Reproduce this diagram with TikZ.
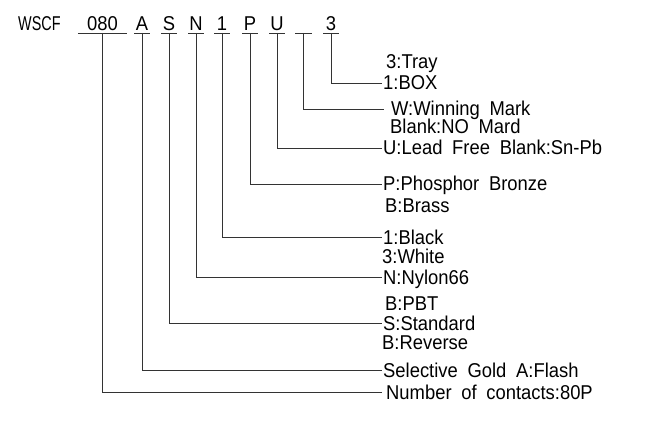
\documentclass[tikz,border=0pt]{standalone}
\usepackage{fontspec}
\setmainfont{Liberation Sans}[FakeStretch=0.92,WordSpace=1.9]
\usepackage{tikz}

\begin{document}
\begin{tikzpicture}[x=1pt,y=-1pt,
    txt/.style={font=\fontsize{20}{22}\selectfont,inner sep=0pt},
    code/.style={txt,anchor=south,minimum width=15pt,text height=14pt,text depth=0pt,inner ysep=2pt},
    desc/.style={txt,anchor=west,inner xsep=1pt,text height=14pt,text depth=0pt},
    more/.style={txt,anchor=base west},
    wire/.style={line width=0.9pt,black!80}]
                    \useasboundingbox (0,0) rectangle (653,422);
                    % part number
                    \node[txt,anchor=base west,font=\fontsize{20}{22}\selectfont\addfontfeatures{FakeStretch=0.72}] (wscf) at (18,31) {WSCF};
                    \node[code,minimum width=49pt] (c080) at (102.5,33) {080};
                    \node[code] (ca) at (142,33) {A};
                    \node[code] (cs) at (169,33) {S};
                    \node[code] (cn) at (196,33) {N};
                    \node[code] (c1) at (222,33) {1};
                    \node[code] (cp) at (250,33) {P};
                    \node[code] (cu) at (277,33) {U};
                    \node[code,minimum width=16pt] (cw) at (303.5,33) {};
                    \node[code] (c3) at (331,33) {3};
                    \foreach \n in {c080,ca,cs,cn,c1,cp,cu,cw,c3}
                        \draw[wire] (\n.south west) -- (\n.south east);
                    % meanings
                    \node[more] (d3b) at (386,69) {3:Tray};
                    \node[desc] (d3) at (382,83) {1:BOX};
                    \node[desc,inner xsep=7pt] (dw) at (384,109) {W:Winning Mark};
                    \node[more] (dwb) at (390,134) {Blank:NO Mard};
                    \node[desc] (du) at (382,148) {U:Lead Free Blank:Sn-Pb};
                    \node[desc] (dp) at (382,184) {P:Phosphor Bronze};
                    \node[more] (dpb) at (385,212) {B:Brass};
                    \node[desc] (d1) at (382,237) {1:Black};
                    \node[more] (d1b) at (382,263) {3:White};
                    \node[desc] (dn) at (382,277) {N:Nylon66};
                    \node[more] (dnb) at (385,310) {B:PBT};
                    \node[desc] (ds) at (382,323) {S:Standard};
                    \node[more] (dsb) at (382,349) {B:Reverse};
                    \node[desc] (da) at (382,370) {Selective Gold A:Flash};
                    \node[desc,inner xsep=4pt] (d080) at (382,392) {Number of contacts:80P};
                    % leaders
                    \foreach \c/\d in {c3/d3,cw/dw,cu/du,cp/dp,c1/d1,cn/dn,cs/ds,ca/da,c080/d080}
                        \draw[wire] (\c.south) |- (\d.west);
                \end{tikzpicture}
\end{document}
